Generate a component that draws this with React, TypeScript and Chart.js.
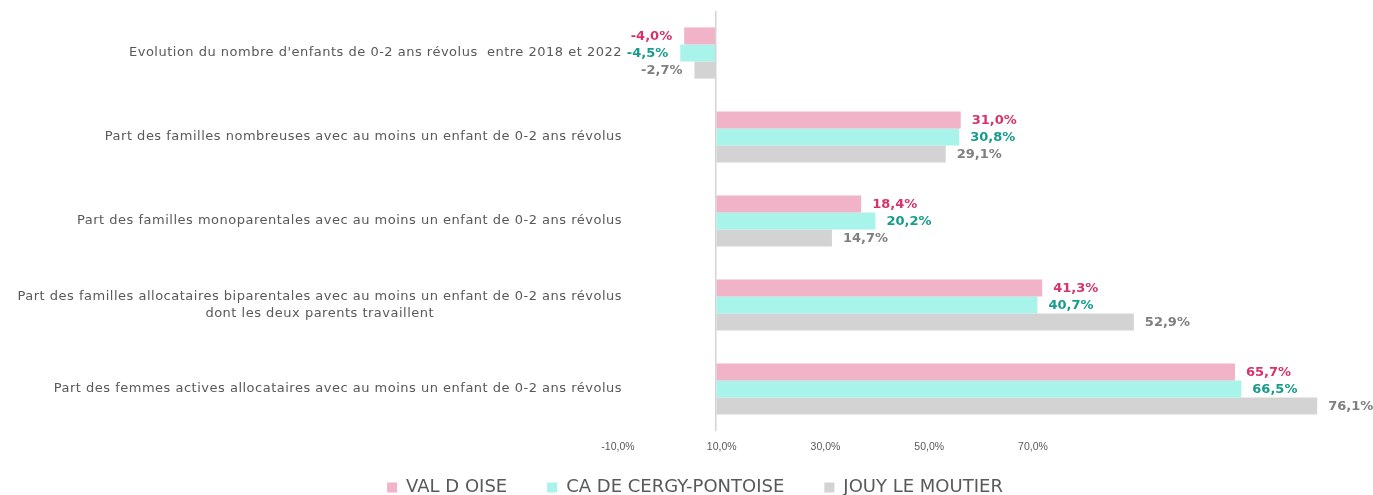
import React, { useEffect, useRef } from 'react';
import { Chart, registerables } from 'chart.js';

Chart.register(...registerables);

const categories: (string | string[])[] = [
  "Evolution du nombre d'enfants de 0-2 ans révolus  entre 2018 et 2022",
  'Part des familles nombreuses avec au moins un enfant de 0-2 ans révolus',
  'Part des familles monoparentales avec au moins un enfant de 0-2 ans révolus',
  [
    'Part des familles allocataires biparentales avec au moins un enfant de 0-2 ans révolus',
    'dont les deux parents travaillent',
  ],
  'Part des femmes actives allocataires avec au moins un enfant de 0-2 ans révolus',
];

const seriesNames = ['VAL D OISE', 'CA DE CERGY-PONTOISE', 'JOUY LE MOUTIER'];
const valDOise = [-4.0, 31.0, 18.4, 41.3, 65.7];
const cergyPontoise = [-4.5, 30.8, 20.2, 40.7, 66.5];
const jouyLeMoutier = [-2.7, 29.1, 14.7, 52.9, 76.1];
const tickLabelValues = [-10, 10, 30, 50, 70];

const barColors = ['#F1B3C8', '#A8F4EB', '#D3D3D3'];
const valueColors = ['#D6336C', '#169C8D', '#7F7F7F'];
const textColor = '#595959';
const FONT = "'DejaVu Sans', sans-serif";

const fmt = (v: number) => v.toFixed(1).replace('.', ',') + '%';

const valueLabelPlugin = {
  id: 'valueLabels',
  afterDatasetsDraw(chart: any) {
    const ctx = chart.ctx;
    ctx.save();
    ctx.font = `bold 13px ${FONT}`;
    ctx.textBaseline = 'middle';
    chart.data.datasets.forEach((ds: any, di: number) => {
      const meta = chart.getDatasetMeta(di);
      meta.data.forEach((el: any, i: number) => {
        const v = ds.data[i] as number;
        ctx.fillStyle = valueColors[di];
        if (v >= 0) {
          ctx.textAlign = 'left';
          ctx.fillText(fmt(v), el.x + 11, el.y + 1);
        } else {
          ctx.textAlign = 'right';
          ctx.fillText(fmt(v), el.x - 12, el.y + 1);
        }
      });
    });
    ctx.restore();
  },
};

const categoryLabelPlugin = {
  id: 'categoryLabels',
  afterDraw(chart: any) {
    const ctx = chart.ctx;
    const yScale = chart.scales.y;
    const right = chart.chartArea.left + 5;
    const lh = 17;
    ctx.save();
    ctx.font = `13px ${FONT}`;
    try {
      (ctx as any).letterSpacing = '0.5px';
    } catch (e) {
      /* ignore */
    }
    ctx.fillStyle = textColor;
    ctx.textBaseline = 'middle';
    categories.forEach((cat, i) => {
      const y = yScale.getPixelForValue(i);
      const lines = Array.isArray(cat) ? cat : [cat];
      const widest = Math.max(...lines.map((l) => ctx.measureText(l).width));
      const y0 = y - ((lines.length - 1) * lh) / 2;
      lines.forEach((line, k) => {
        if (lines.length > 1) {
          ctx.textAlign = 'center';
          ctx.fillText(line, right - widest / 2, y0 + k * lh);
        } else {
          ctx.textAlign = 'right';
          ctx.fillText(line, right, y0 + k * lh);
        }
      });
    });
    ctx.restore();
  },
};

// Legend box is given a short height for layout, then moved up and enlarged
// so its items sit at the reference height while the plot keeps its size.
const legendNudgePlugin = {
  id: 'legendNudge',
  afterLayout(chart: any) {
    const l = chart.legend;
    if (l) {
      l.top -= 16.5;
      l.height = 60;
      l.bottom = l.top + 60;
    }
  },
};

export default function App() {
  const canvasRef = useRef<HTMLCanvasElement | null>(null);

  useEffect(() => {
    if (!canvasRef.current) return;
    Chart.defaults.font.family = FONT;
    const seriesData = [valDOise, cergyPontoise, jouyLeMoutier];
    const chart = new Chart(canvasRef.current, {
      type: 'bar',
      data: {
        labels: categories.map((c) => (Array.isArray(c) ? c.join(' ') : c)),
        datasets: seriesNames.map((name, i) => ({
          label: name,
          data: seriesData[i],
          backgroundColor: barColors[i],
          borderWidth: 0,
          xAxisID: 'x',
          categoryPercentage: 0.61,
          barPercentage: 1.0,
        })),
      },
      options: {
        indexAxis: 'y',
        animation: false,
        responsive: false,
        maintainAspectRatio: false,
        layout: { padding: { left: 42, right: 25, top: 11, bottom: 0 } },
        scales: {
          y: {
            type: 'category',
            ticks: { display: false },
            grid: { display: false },
            border: { display: false },
            afterFit: (s: any) => {
              s.width = 575;
            },
          },
          x: {
            type: 'linear',
            position: 'top',
            min: -12.5,
            max: 80,
            ticks: { display: false, stepSize: 10 },
            border: { display: false },
            grid: {
              drawTicks: false,
              lineWidth: 1.5,
              color: (c: any) => (c.tick && c.tick.value === 0 ? '#D4D4D4' : 'rgba(0,0,0,0)'),
            },
          },
          x2: {
            type: 'linear',
            position: 'bottom',
            min: -10.19,
            max: 130.72,
            afterBuildTicks: (s: any) => {
              s.ticks = tickLabelValues.map((value) => ({ value }));
            },
            afterFit: (s: any) => {
              s.height = 24;
            },
            ticks: {
              padding: 10,
              color: textColor,
              font: { size: 10.5, family: "'Liberation Sans', sans-serif" },
              callback: (v: any) => fmt(Number(v)),
              maxRotation: 0,
              autoSkip: false,
            },
            grid: { display: false, drawTicks: false },
            border: { display: false },
          },
        },
        plugins: {
          legend: {
            position: 'bottom',
            maxHeight: 40,
            labels: {
              color: textColor,
              boxWidth: 10,
              boxHeight: 10,
              padding: 40,
              font: { size: 18, family: FONT },
            },
          },
          tooltip: { enabled: false },
        },
      },
      plugins: [valueLabelPlugin, categoryLabelPlugin, legendNudgePlugin],
    });
    return () => chart.destroy();
  }, []);

  return (
    <div style={{ position: 'absolute', left: 0, top: 0, width: 1373, height: 495, background: '#fff' }}>
      <canvas ref={canvasRef} width={1373} height={495} style={{ display: 'block' }} />
    </div>
  );
}
